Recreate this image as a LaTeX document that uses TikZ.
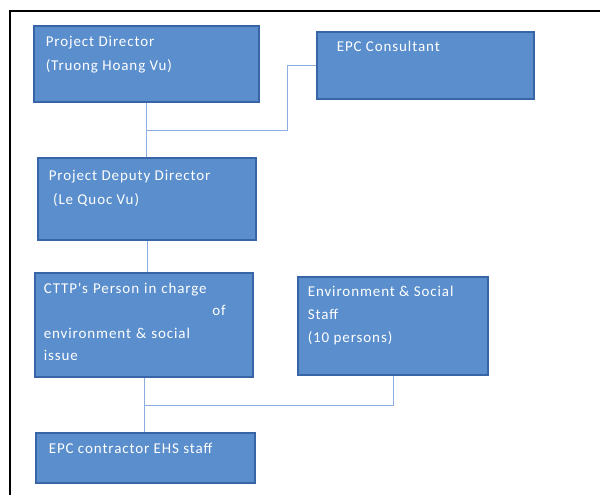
\documentclass[tikz,border=0pt]{standalone}
\usepackage{fontspec}
\usepackage{xcolor}
\usepackage{tikz}
\usetikzlibrary{positioning,calc}
\newfontfamily\boxfont[LetterSpace=6]{Carlito}
\definecolor{boxfill}{HTML}{5A8ECC}
\definecolor{boxedge}{HTML}{3865A8}
\definecolor{linkblue}{HTML}{8CAEE0}

\begin{document}
\begin{tikzpicture}[x=1pt, y=-1pt,
    box/.style={draw=boxedge, line width=2.8pt, fill=boxfill, inner sep=0pt},
    boxtext/.style={text=white, align=left, inner sep=0pt, font=\boxfont\fontsize{15}{24}\selectfont},
    link/.style={draw=linkblue, line width=1pt}
]
\useasboundingbox (0,0) rectangle (600,495);
\draw[line width=1.2pt] (10,495) -- (10,11) -- (600,11);

\node[box, minimum width=225pt, minimum height=76pt] (pd) at (146.5,64) {};
\node[box, minimum width=217pt, minimum height=67pt] (epc) at (425.5,65.5) {};
\node[box, minimum width=218pt, minimum height=82pt] (deputy) at (147,199) {};
\node[box, minimum width=218pt, minimum height=104pt] (cttp) at (144,325) {};
\node[box, minimum width=190pt, minimum height=98pt] (env) at (393,326) {};
\node[box, minimum width=219pt, minimum height=50pt] (ehs) at (145.5,458) {};

\node[boxtext, below right=11pt and 13pt of pd.north west] (pdtext) {Project Director\\(Truong Hoang Vu)};
\node[boxtext, below right=10pt and 21pt of epc.north west] (epctext) {EPC Consultant};
\node[boxtext, below right=13pt and 12pt of deputy.north west] (deputytext) {Project Deputy Director\\\ (Le Quoc Vu)};
\node[boxtext, text width=182pt, below right=11pt and 10pt of cttp.north west, font=\boxfont\fontsize{15}{22.5}\selectfont] (cttptext) {CTTP's Person in charge\\\mbox{}\hfill of\\environment \& social\\issue};
\node[boxtext, below right=10pt and 11pt of env.north west, font=\boxfont\fontsize{15}{23}\selectfont] (envtext) {Environment \& Social\\Staff\\(10 persons)};
\node[boxtext, below right=11pt and 14pt of ehs.north west] (ehstext) {EPC contractor EHS staff};

\coordinate (j1) at ($(pd.south)!0.5!(deputy.north)$);
\coordinate (j2) at ($(cttp.south)!0.5!(ehs.north)$);

\draw[link] (pd.south) -- (pd.south |- deputy.north);
\draw[link] (j1) -- ++(141,0) |- (epc.west);
\draw[link] (deputy.south) -- (deputy.south |- cttp.north);
\draw[link] (cttp.south) -- (cttp.south |- ehs.north);
\draw[link] (j2) -| (env.south);
\end{tikzpicture}
\end{document}
